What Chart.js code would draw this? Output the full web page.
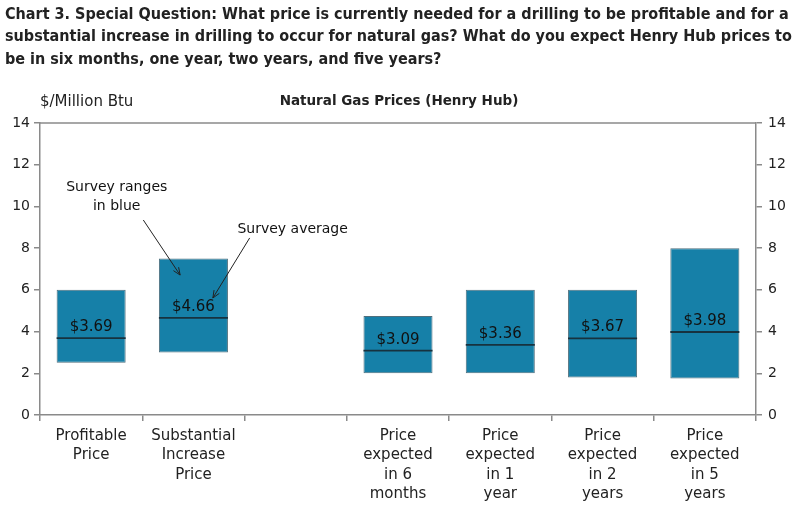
<!DOCTYPE html>
<html>
<head>
<meta charset="utf-8">
<script src="https://cdn.jsdelivr.net/npm/chart.js@4"></script>
<style>
  body { margin: 0; background: #fff; }
  #wrap { width: 800px; height: 506px; position: relative; }
</style>
</head>
<body>
<div id="wrap"><canvas id="myChart"></canvas></div>
<script>
'use strict';

// categories (empty slot is the gap between the two groups)
let categories = [['Profitable', 'Price'], ['Substantial', 'Increase', 'Price'], '',
    ['Price', 'expected', 'in 6', 'months'], ['Price', 'expected', 'in 1', 'year'],
    ['Price', 'expected', 'in 2', 'years'], ['Price', 'expected', 'in 5', 'years']];
let lows = [2.5, 3.0, null, 2.0, 2.0, 1.8, 1.75];
let highs = [6.0, 7.5, null, 4.75, 6.0, 6.0, 8.0];
let averages = [3.69, 4.66, null, 3.09, 3.36, 3.67, 3.98];
let yTicks = [0, 2, 4, 6, 8, 10, 12, 14];

let titleLines = ['Chart 3. Special Question: What price is currently needed for a drilling to be profitable and for a',
    'substantial increase in drilling to occur for natural gas? What do you expect Henry Hub prices to',
    'be in six months, one year, two years, and five years?'];

const FONT = "'DejaVu Sans', sans-serif";
const TITLE_FONT = "'DejaVu Sans Condensed', 'DejaVu Sans', sans-serif";

let ranges = [];
for (let i = 0; i < categories.length; i++) {
    ranges.push(lows[i] === null ? null : [lows[i], highs[i]]);
}

// average line, value labels, annotations and titles
const extras = {
    id: 'extras',
    afterDatasetsDraw(chart) {
        const ctx = chart.ctx;
        const x = chart.scales.x;
        const y = chart.scales.y;
        const area = chart.chartArea;
        const meta = chart.getDatasetMeta(0);

        ctx.save();
        // top border of the plot box
        ctx.strokeStyle = '#8a8a8a';
        ctx.lineWidth = 1.5;
        ctx.beginPath();
        ctx.moveTo(area.left, area.top);
        ctx.lineTo(area.right, area.top);
        ctx.stroke();

        for (let i = 0; i < averages.length; i++) {
            if (averages[i] === null) continue;
            let bar = meta.data[i];
            let half = bar.width / 2;
            let py = y.getPixelForValue(averages[i]);
            ctx.strokeStyle = '#17323f';
            ctx.lineWidth = 1.8;
            ctx.beginPath();
            ctx.moveTo(bar.x - half, py);
            ctx.lineTo(bar.x + half, py);
            ctx.stroke();

            ctx.fillStyle = '#111';
            ctx.font = '15px ' + FONT;
            ctx.textAlign = 'center';
            ctx.textBaseline = 'alphabetic';
            ctx.fillText('$' + averages[i].toFixed(2), bar.x, py - 7);
        }

        // annotations
        ctx.fillStyle = '#111';
        ctx.font = '14px ' + FONT;
        ctx.textAlign = 'center';
        ctx.textBaseline = 'middle';
        ctx.fillText('Survey ranges', x.getPixelForValue(0.25), y.getPixelForValue(10.93));
        ctx.fillText('in blue', x.getPixelForValue(0.25), y.getPixelForValue(10.02));
        ctx.textAlign = 'left';
        ctx.fillText('Survey average', x.getPixelForValue(1.43), y.getPixelForValue(8.92));

        function arrow(x0, y0, x1, y1) {
            let ax = x.getPixelForValue(x0), ay = y.getPixelForValue(y0);
            let bx = x.getPixelForValue(x1), by = y.getPixelForValue(y1);
            ctx.strokeStyle = '#222';
            ctx.lineWidth = 1;
            ctx.beginPath();
            ctx.moveTo(ax, ay);
            ctx.lineTo(bx, by);
            ctx.stroke();
            let ang = Math.atan2(by - ay, bx - ax);
            ctx.beginPath();
            ctx.moveTo(bx - 8 * Math.cos(ang - 0.4), by - 8 * Math.sin(ang - 0.4));
            ctx.lineTo(bx, by);
            ctx.lineTo(bx - 8 * Math.cos(ang + 0.4), by - 8 * Math.sin(ang + 0.4));
            ctx.stroke();
        }
        arrow(0.51, 9.35, 0.87, 6.71);
        arrow(1.55, 8.49, 1.19, 5.61);

        // titles
        ctx.fillStyle = '#222';
        ctx.textAlign = 'left';
        ctx.textBaseline = 'middle';
        ctx.font = 'bold 16px ' + TITLE_FONT;
        for (let i = 0; i < titleLines.length; i++) {
            ctx.fillText(titleLines[i], 5, 14.5 + i * 22.5);
        }
        ctx.font = '15px ' + FONT;
        ctx.fillText('$/Million Btu', 40, 102);
        ctx.font = 'bold 13.5px ' + FONT;
        ctx.textAlign = 'center';
        ctx.fillText('Natural Gas Prices (Henry Hub)', 399, 101);
        ctx.restore();
    }
};

const tickFont = { family: FONT, size: 14 };

new Chart(document.getElementById('myChart'), {
    type: 'bar',
    data: {
        labels: categories,
        datasets: [{
            data: ranges,
            backgroundColor: '#1680a8',
            borderColor: '#4f6f7d',
            borderWidth: 1,
            borderSkipped: false,
            barPercentage: 1,
            categoryPercentage: 0.675
        }]
    },
    options: {
        responsive: true,
        maintainAspectRatio: false,
        animation: false,
        layout: { padding: { top: 123, left: 0, right: 0, bottom: 0 } },
        plugins: { legend: { display: false }, tooltip: { enabled: false }, title: { display: false } },
        scales: {
            x: {
                offset: true,
                grid: { offset: true, drawOnChartArea: false, drawTicks: true, tickLength: 6, color: '#8a8a8a', lineWidth: 1.5 },
                border: { color: '#8a8a8a', width: 1.5 },
                ticks: { font: { family: FONT, size: 15, lineHeight: 1.27 }, color: '#222', maxRotation: 0, autoSkip: false, padding: 6 },
                afterFit(scale) { scale.height = 91; }
            },
            y: {
                position: 'left',
                min: 0, max: 14,
                afterBuildTicks(scale) { scale.ticks = yTicks.map(v => ({ value: v })); },
                grid: { drawOnChartArea: false, drawTicks: true, tickLength: 6, color: '#8a8a8a', lineWidth: 1.5 },
                border: { color: '#8a8a8a', width: 1.5 },
                ticks: { font: tickFont, color: '#222', padding: 4 },
                afterFit(scale) { scale.width = 40; }
            },
            y2: {
                position: 'right',
                min: 0, max: 14,
                afterBuildTicks(scale) { scale.ticks = yTicks.map(v => ({ value: v })); },
                grid: { drawOnChartArea: false, drawTicks: true, tickLength: 6, color: '#8a8a8a', lineWidth: 1.5 },
                border: { color: '#8a8a8a', width: 1.5 },
                ticks: { font: tickFont, color: '#222', padding: 6 },
                afterFit(scale) { scale.width = 44; }
            }
        }
    },
    plugins: [extras]
});
</script>
</body>
</html>
